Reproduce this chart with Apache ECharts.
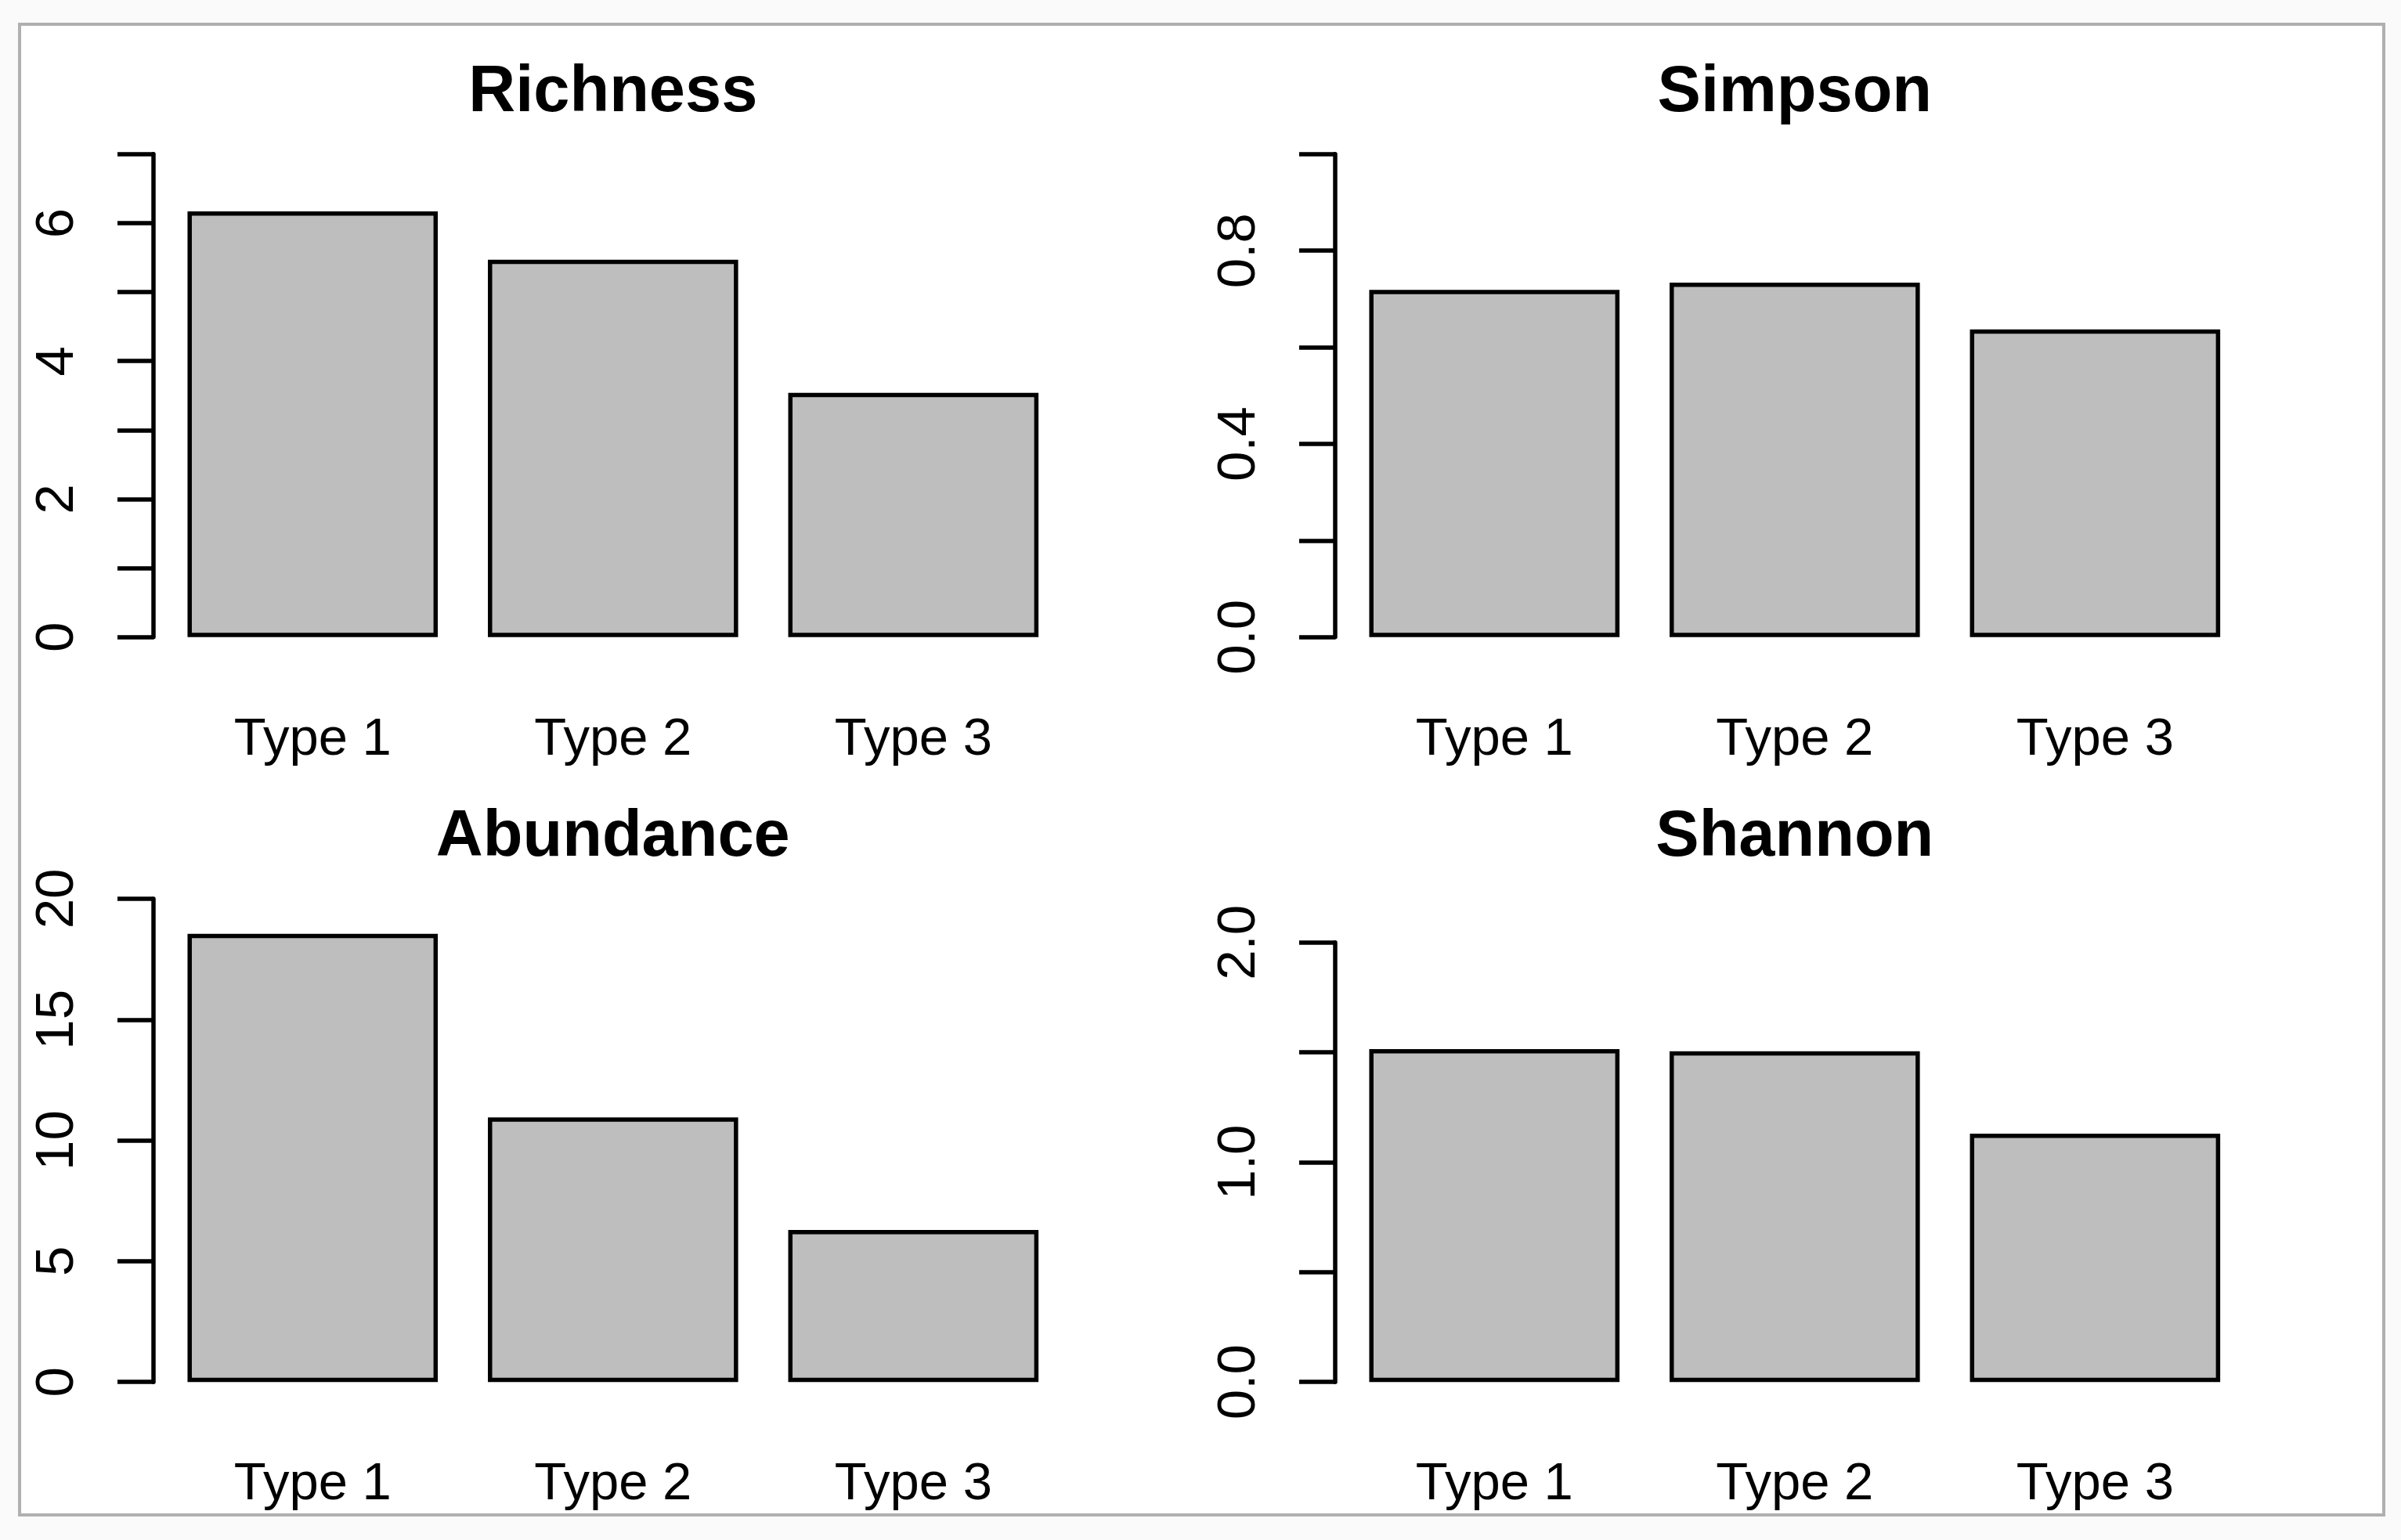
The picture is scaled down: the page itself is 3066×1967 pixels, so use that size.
<!DOCTYPE html>
<html>
<head>
<meta charset="utf-8">
<script src="https://cdn.jsdelivr.net/npm/echarts@6/dist/echarts.min.js"></script>
<style>
html, body { margin: 0; padding: 0; background: #fafafa; }
#c { width: 3066px; height: 1967px; }
</style>
</head>
<body>
<div id="c"></div>
<script>
// ---- data ----
const categories = ['Type 1', 'Type 2', 'Type 3'];
const richness  = [6.17, 5.47, 3.54];
const simpson   = [0.719, 0.734, 0.637];
const abundance = [18.55, 10.95, 6.29];
const shannon   = [1.515, 1.505, 1.13];

const titles = ['Richness', 'Simpson', 'Abundance', 'Shannon'];

// visible tick labels (R drops the ones that would overlap)
const richnessTickLabels  = ['0', '2', '4', '6'];
const simpsonTickLabels   = ['0.0', '0.4', '0.8'];
const abundanceTickLabels = ['0', '5', '10', '15', '20'];
const shannonTickLabels   = ['0.0', '1.0', '2.0'];

// axis ranges
const richnessAxis  = { max: 7,  interval: 1,   decimals: 0 };
const simpsonAxis   = { max: 1,  interval: 0.2, decimals: 1 };
const abundanceAxis = { max: 20, interval: 5,   decimals: 0 };
const shannonAxis   = { max: 2,  interval: 0.5, decimals: 1 };

// ---- layout ----
const FONT = '"Liberation Sans", Arial, Helvetica, sans-serif';
const colX = [207.5, 1716.5];
const gridW = 1150.6;
const panels = [
  { title: titles[0], data: richness,  axis: richnessAxis,  labels: richnessTickLabels,  left: colX[0], top: 196.8,  height: 617,   titleTop: 77.3 },
  { title: titles[1], data: simpson,   axis: simpsonAxis,   labels: simpsonTickLabels,   left: colX[1], top: 196.8,  height: 617,   titleTop: 77.3 },
  { title: titles[2], data: abundance, axis: abundanceAxis, labels: abundanceTickLabels, left: colX[0], top: 1148,   height: 617.2, titleTop: 1028.6 },
  { title: titles[3], data: shannon,   axis: shannonAxis,   labels: shannonTickLabels,   left: colX[1], top: 1203.8, height: 561.4, titleTop: 1028.6 }
];

const option = {
  animation: false,
  backgroundColor: '#fafafa',
  graphic: [{
    type: 'rect', z: -100, silent: true,
    shape: { x: 25, y: 31, width: 3019, height: 1904 },
    style: { fill: '#ffffff', stroke: '#b0b0b0', lineWidth: 4 }
  }],
  title: panels.map(p => ({
    text: p.title,
    left: p.left - 11.5 + 1173.6 / 2,
    top: p.titleTop,
    textAlign: 'center',
    padding: 0,
    textStyle: { fontFamily: FONT, fontSize: 83, fontWeight: 'bold', color: '#000', lineHeight: 83 }
  })),
  grid: panels.map(p => ({ left: p.left, top: p.top, width: gridW, height: p.height, containLabel: false })),
  xAxis: panels.map((p, i) => ({
    type: 'category', gridIndex: i, data: categories,
    axisLine: { show: false }, axisTick: { show: false }, splitLine: { show: false },
    axisLabel: { fontFamily: FONT, fontSize: 67, lineHeight: 67, color: '#000', margin: 98 }
  })),
  yAxis: panels.map((p, i) => ({
    type: 'value', gridIndex: i, min: 0, max: p.axis.max, interval: p.axis.interval,
    offset: 11.5,
    axisLine: { show: true, lineStyle: { color: '#000', width: 5.5 } },
    axisTick: { show: true, length: 46, lineStyle: { color: '#000', width: 5.5 } },
    splitLine: { show: false },
    axisLabel: {
      rotate: 90, margin: 88, fontFamily: FONT, fontSize: 69, lineHeight: 69, color: '#000',
      formatter: v => { const s = Number(v).toFixed(p.axis.decimals); return p.labels.includes(s) ? s : ''; }
    }
  })),
  series: panels.map((p, i) => ({
    type: 'bar', xAxisIndex: i, yAxisIndex: i, data: p.data, barWidth: 319.6,
    itemStyle: { color: '#bebebe', borderColor: '#000', borderWidth: 5.5 }
  }))
};

const chart = echarts.init(document.getElementById('c'), null, { renderer: 'canvas' });
chart.setOption(option);
</script>
</body>
</html>
